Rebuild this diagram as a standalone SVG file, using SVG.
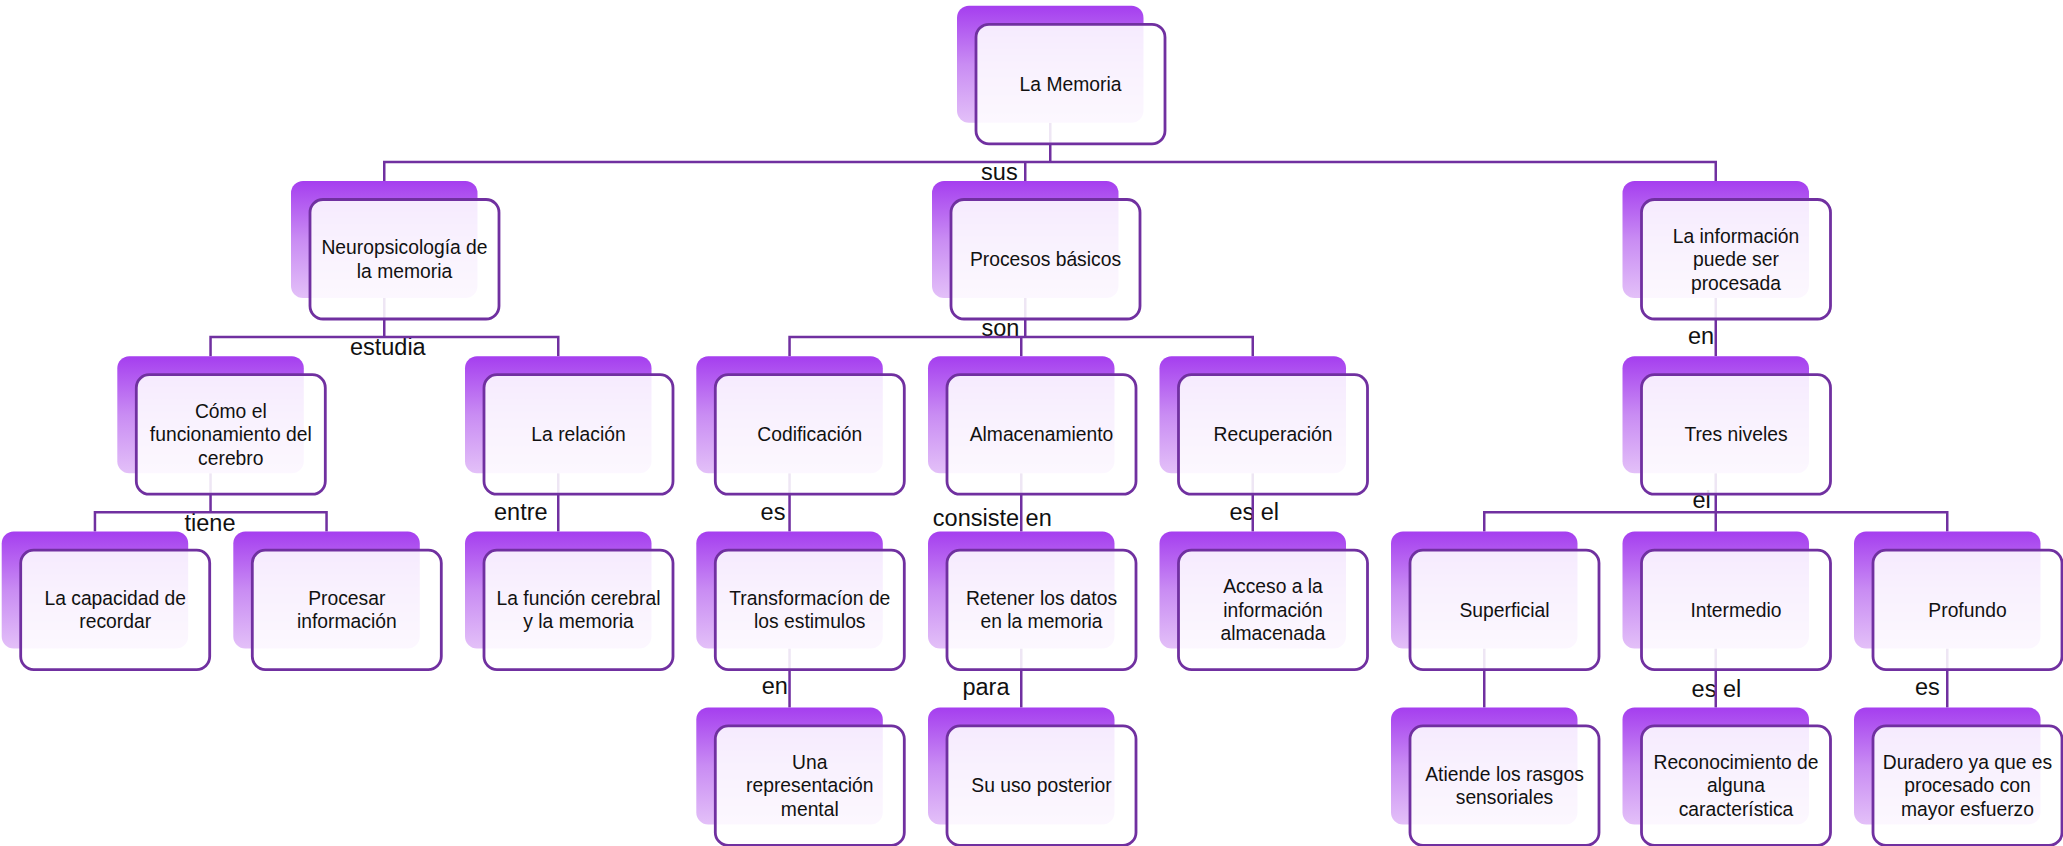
<svg xmlns="http://www.w3.org/2000/svg" width="2063" height="846" viewBox="0 0 2063 846">
<defs>
<linearGradient id="gBack" x1="0" y1="0" x2="0" y2="1">
<stop offset="0" stop-color="#a53eef"/>
<stop offset="0.5" stop-color="#c98cf3"/>
<stop offset="1" stop-color="#e3c0f8"/>
</linearGradient>
</defs>
<style>
.back{fill:url(#gBack);}
.front{fill:#ffffff;fill-opacity:0.88;stroke:#7030a0;stroke-width:2.8;}
.t{font-family:"Liberation Sans",Arial,sans-serif;font-size:19.3px;fill:#111111;text-anchor:middle;}
.lbl{font-family:"Liberation Sans",Arial,sans-serif;font-size:23.5px;fill:#111111;text-anchor:middle;}
.con{fill:none;stroke:#7030a0;stroke-width:2.5;stroke-linejoin:miter;stroke-linecap:butt;}
</style>
<rect x="0" y="0" width="2063" height="846" fill="#ffffff"/>
<g id="connectors">
<g id="connector-labels">
<text class="lbl" x="999.4" y="179.5">sus</text>
<text class="lbl" x="387.8" y="355">estudia</text>
<text class="lbl" x="210" y="530.7">tiene</text>
<text class="lbl" x="520.8" y="520">entre</text>
<text class="lbl" x="1000.5" y="335.7">son</text>
<text class="lbl" x="773" y="520">es</text>
<text class="lbl" x="992.3" y="525.7">consiste en</text>
<text class="lbl" x="1254.2" y="520">es el</text>
<text class="lbl" x="774.8" y="694.3">en</text>
<text class="lbl" x="986" y="695">para</text>
<text class="lbl" x="1701" y="344">en</text>
<text class="lbl" x="1701.7" y="508">el</text>
<text class="lbl" x="1716.4" y="696.7">es el</text>
<text class="lbl" x="1927.4" y="695">es</text>
</g>
<path class="con" d="M1050.25 122.8V162M384.25 181V162H1715.75V181M1025.25 162V181"/>
<path class="con" d="M384.25 298V337M210.55 356.2V337H558.25V356.2"/>
<path class="con" d="M1025.25 298V337M789.55 356.2V337H1252.75V356.2M1021.25 337V356.2"/>
<path class="con" d="M1715.75 298V356.2"/>
<path class="con" d="M210.55 473.2V512.3M94.95 531.6V512.3H326.55V531.6"/>
<path class="con" d="M558.25 473.2V531.6M789.55 473.2V531.6M1021.25 473.2V531.6M1252.75 473.2V531.6"/>
<path class="con" d="M1715.75 473.2V512.3M1484.25 531.6V512.3H1947.25V531.6M1715.75 512.3V531.6"/>
<path class="con" d="M789.55 648.6V707.4M1021.25 648.6V707.4M1484.25 648.6V707.4M1715.75 648.6V707.4M1947.25 648.6V707.4"/>
</g>

<g id="n0"><rect class="back" x="957" y="5.8" width="186.5" height="117" rx="12"/><rect class="front" x="976" y="24.3" width="189" height="119.5" rx="13"/>
<text class="t" x="1070.5" y="90.8">La Memoria</text></g>

<g id="n1"><rect class="back" x="291" y="181" width="186.5" height="117" rx="12"/><rect class="front" x="310" y="199.5" width="189" height="119.5" rx="13"/>
<text class="t" x="404.5" y="254.3">Neuropsicología de</text><text class="t" x="404.5" y="277.8">la memoria</text></g>

<g id="n2"><rect class="back" x="932" y="181" width="186.5" height="117" rx="12"/><rect class="front" x="951" y="199.5" width="189" height="119.5" rx="13"/>
<text class="t" x="1045.5" y="266">Procesos básicos</text></g>

<g id="n3"><rect class="back" x="1622.5" y="181" width="186.5" height="117" rx="12"/><rect class="front" x="1641.5" y="199.5" width="189" height="119.5" rx="13"/>
<text class="t" x="1736" y="242.5">La información</text><text class="t" x="1736" y="266">puede ser</text><text class="t" x="1736" y="289.5">procesada</text></g>

<g id="n4"><rect class="back" x="117.3" y="356.2" width="186.5" height="117" rx="12"/><rect class="front" x="136.3" y="374.7" width="189" height="119.5" rx="13"/>
<text class="t" x="230.8" y="417.7">Cómo el</text><text class="t" x="230.8" y="441.2">funcionamiento del</text><text class="t" x="230.8" y="464.7">cerebro</text></g>

<g id="n5"><rect class="back" x="465" y="356.2" width="186.5" height="117" rx="12"/><rect class="front" x="484" y="374.7" width="189" height="119.5" rx="13"/>
<text class="t" x="578.5" y="441.2">La relación</text></g>

<g id="n6"><rect class="back" x="696.3" y="356.2" width="186.5" height="117" rx="12"/><rect class="front" x="715.3" y="374.7" width="189" height="119.5" rx="13"/>
<text class="t" x="809.8" y="441.2">Codificación</text></g>

<g id="n7"><rect class="back" x="928" y="356.2" width="186.5" height="117" rx="12"/><rect class="front" x="947" y="374.7" width="189" height="119.5" rx="13"/>
<text class="t" x="1041.5" y="441.2">Almacenamiento</text></g>

<g id="n8"><rect class="back" x="1159.5" y="356.2" width="186.5" height="117" rx="12"/><rect class="front" x="1178.5" y="374.7" width="189" height="119.5" rx="13"/>
<text class="t" x="1273" y="441.2">Recuperación</text></g>

<g id="n9"><rect class="back" x="1622.5" y="356.2" width="186.5" height="117" rx="12"/><rect class="front" x="1641.5" y="374.7" width="189" height="119.5" rx="13"/>
<text class="t" x="1736" y="441.2">Tres niveles</text></g>

<g id="n10"><rect class="back" x="1.7" y="531.6" width="186.5" height="117" rx="12"/><rect class="front" x="20.7" y="550.1" width="189" height="119.5" rx="13"/>
<text class="t" x="115.2" y="604.9">La capacidad de</text><text class="t" x="115.2" y="628.4">recordar</text></g>

<g id="n11"><rect class="back" x="233.3" y="531.6" width="186.5" height="117" rx="12"/><rect class="front" x="252.3" y="550.1" width="189" height="119.5" rx="13"/>
<text class="t" x="346.8" y="604.9">Procesar</text><text class="t" x="346.8" y="628.4">información</text></g>

<g id="n12"><rect class="back" x="465" y="531.6" width="186.5" height="117" rx="12"/><rect class="front" x="484" y="550.1" width="189" height="119.5" rx="13"/>
<text class="t" x="578.5" y="604.9">La función cerebral</text><text class="t" x="578.5" y="628.4">y la memoria</text></g>

<g id="n13"><rect class="back" x="696.3" y="531.6" width="186.5" height="117" rx="12"/><rect class="front" x="715.3" y="550.1" width="189" height="119.5" rx="13"/>
<text class="t" x="809.8" y="604.9">Transformacíon de</text><text class="t" x="809.8" y="628.4">los estimulos</text></g>

<g id="n14"><rect class="back" x="928" y="531.6" width="186.5" height="117" rx="12"/><rect class="front" x="947" y="550.1" width="189" height="119.5" rx="13"/>
<text class="t" x="1041.5" y="604.9">Retener los datos</text><text class="t" x="1041.5" y="628.4">en la memoria</text></g>

<g id="n15"><rect class="back" x="1159.5" y="531.6" width="186.5" height="117" rx="12"/><rect class="front" x="1178.5" y="550.1" width="189" height="119.5" rx="13"/>
<text class="t" x="1273" y="593.1">Acceso a la</text><text class="t" x="1273" y="616.6">información</text><text class="t" x="1273" y="640.1">almacenada</text></g>

<g id="n16"><rect class="back" x="1391" y="531.6" width="186.5" height="117" rx="12"/><rect class="front" x="1410" y="550.1" width="189" height="119.5" rx="13"/>
<text class="t" x="1504.5" y="616.6">Superficial</text></g>

<g id="n17"><rect class="back" x="1622.5" y="531.6" width="186.5" height="117" rx="12"/><rect class="front" x="1641.5" y="550.1" width="189" height="119.5" rx="13"/>
<text class="t" x="1736" y="616.6">Intermedio</text></g>

<g id="n18"><rect class="back" x="1854" y="531.6" width="186.5" height="117" rx="12"/><rect class="front" x="1873" y="550.1" width="189" height="119.5" rx="13"/>
<text class="t" x="1967.5" y="616.6">Profundo</text></g>

<g id="n19"><rect class="back" x="696.3" y="707.4" width="186.5" height="117" rx="12"/><rect class="front" x="715.3" y="725.9" width="189" height="119.5" rx="13"/>
<text class="t" x="809.8" y="768.9">Una</text><text class="t" x="809.8" y="792.4">representación</text><text class="t" x="809.8" y="815.9">mental</text></g>

<g id="n20"><rect class="back" x="928" y="707.4" width="186.5" height="117" rx="12"/><rect class="front" x="947" y="725.9" width="189" height="119.5" rx="13"/>
<text class="t" x="1041.5" y="792.4">Su uso posterior</text></g>

<g id="n21"><rect class="back" x="1391" y="707.4" width="186.5" height="117" rx="12"/><rect class="front" x="1410" y="725.9" width="189" height="119.5" rx="13"/>
<text class="t" x="1504.5" y="780.7">Atiende los rasgos</text><text class="t" x="1504.5" y="804.2">sensoriales</text></g>

<g id="n22"><rect class="back" x="1622.5" y="707.4" width="186.5" height="117" rx="12"/><rect class="front" x="1641.5" y="725.9" width="189" height="119.5" rx="13"/>
<text class="t" x="1736" y="768.9">Reconocimiento de</text><text class="t" x="1736" y="792.4">alguna</text><text class="t" x="1736" y="815.9">característica</text></g>

<g id="n23"><rect class="back" x="1854" y="707.4" width="186.5" height="117" rx="12"/><rect class="front" x="1873" y="725.9" width="189" height="119.5" rx="13"/>
<text class="t" x="1967.5" y="768.9">Duradero ya que es</text><text class="t" x="1967.5" y="792.4">procesado con</text><text class="t" x="1967.5" y="815.9">mayor esfuerzo</text></g>
</svg>
